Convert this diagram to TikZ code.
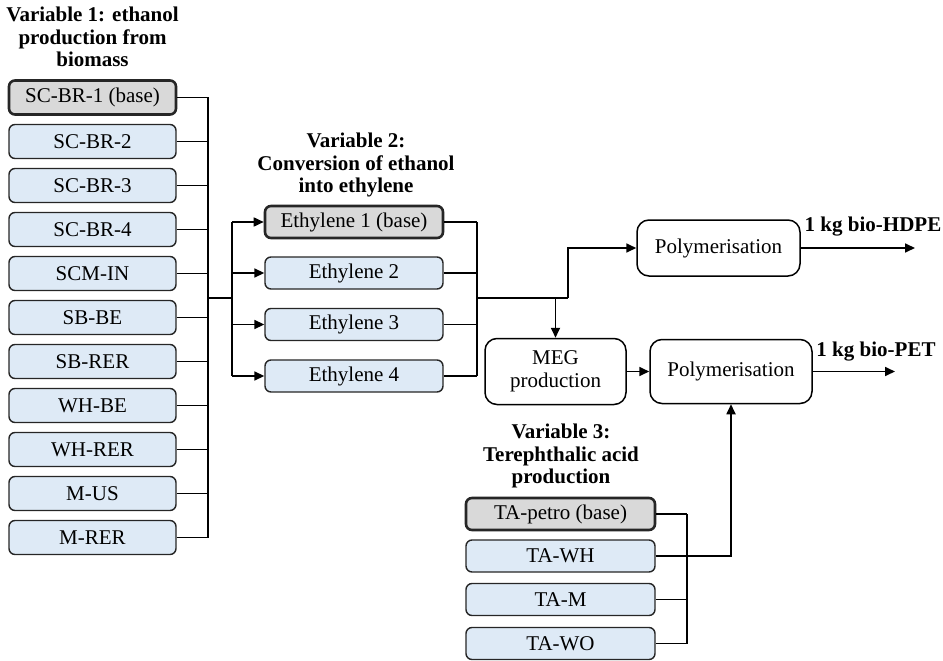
\documentclass[tikz,border=0pt]{standalone}
\usepackage{fontspec}
\setmainfont{Liberation Serif}
\usetikzlibrary{arrows.meta}
\usepackage{xcolor}
\definecolor{altblue}{HTML}{DEEAF6}
\definecolor{basegray}{HTML}{D9D9D9}

\begin{document}
\begin{tikzpicture}[x=1pt, y=-1pt,
		alt/.style  = {rectangle, draw=black!85, fill=altblue, line width=1.4pt, rounded corners=6pt, inner sep=0pt, font=\fontsize{21}{24}\selectfont},
		base/.style = {alt, fill=basegray, line width=2.6pt},
		proc/.style = {rectangle, draw=black, fill=white, line width=1.5pt, rounded corners=12pt, inner sep=0pt, align=center, font=\fontsize{21}{23.5}\selectfont},
		ttl/.style  = {align=center, inner sep=0pt, font=\fontsize{21}{22.5}\selectfont\bfseries},
		c1/.style   = {minimum width=167pt, minimum height=34pt},
		c2/.style   = {minimum width=178pt, minimum height=32pt},
		c3/.style   = {minimum width=189pt, minimum height=32pt},
		l/.style    = {line width=1.7pt},
		r/.style    = {l, -{Triangle[length=10pt, width=9pt]}}
		]
		\useasboundingbox (0,0) rectangle (943,661);
		
		% === === Titles === ===
		\node[ttl]	(t1)	at	(92.5, 37)	{Variable 1: ethanol\\production from\\biomass};
		\node[ttl]	(t2)	at	(356, 165)	{Variable 2:\\Conversion of ethanol\\into ethylene};
		\node[ttl]	(t3)	at	(561, 456)	{Variable 3:\\Terephthalic acid\\production};
		
		% === === Variable 1 === ===
		\node[base, c1]	(scbr1)	at	(92.5, 97.5)	{SC-BR-1 (base)};
		\node[alt, c1]	(scbr2)	at	(92.5, 141.5)	{SC-BR-2};
		\node[alt, c1]	(scbr3)	at	(92.5, 185.5)	{SC-BR-3};
		\node[alt, c1]	(scbr4)	at	(92.5, 229.5)	{SC-BR-4};
		\node[alt, c1]	(scmin)	at	(92.5, 273.5)	{SCM-IN};
		\node[alt, c1]	(sbbe)	at	(92.5, 317.5)	{SB-BE};
		\node[alt, c1]	(sbrer)	at	(92.5, 361.5)	{SB-RER};
		\node[alt, c1]	(whbe)	at	(92.5, 405.5)	{WH-BE};
		\node[alt, c1]	(whrer)	at	(92.5, 449.5)	{WH-RER};
		\node[alt, c1]	(mus)	at	(92.5, 493.5)	{M-US};
		\node[alt, c1]	(mrer)	at	(92.5, 537.5)	{M-RER};
		
		% === === Variable 2 === ===
		\node[base, c2]	(eth1)	at	(354, 222)	{Ethylene 1 (base)};
		\node[alt, c2]	(eth2)	at	(354, 273)	{Ethylene 2};
		\node[alt, c2]	(eth3)	at	(354, 324.5)	{Ethylene 3};
		\node[alt, c2]	(eth4)	at	(354, 376)	{Ethylene 4};
		
		% === === Variable 3 === ===
		\node[base, c3]	(tapetro)	at	(560.5, 514)	{TA-petro (base)};
		\node[alt, c3]	(tawh)	at	(560.5, 556)	{TA-WH};
		\node[alt, c3]	(tam)	at	(560.5, 599.5)	{TA-M};
		\node[alt, c3]	(tawo)	at	(560.5, 643.5)	{TA-WO};
		
		% === === Processes === ===
		\node[proc, minimum width=163pt, minimum height=56pt]	(poly1)	at	(718.5, 248)	{Polymerisation};
		\node[proc, minimum width=141pt, minimum height=66pt]	(meg)	at	(555.5, 371.5)	{MEG\\production};
		\node[proc, minimum width=162pt, minimum height=64pt]	(poly2)	at	(731, 371.5)	{Polymerisation};
		\node[ttl]	(hdpe)	at	(873, 227)	{1 kg bio-HDPE};
		\node[ttl]	(pet)	at	(876, 352)	{1 kg bio-PET};
		
		\coordinate	(bus1)	at	(208, 298);
		\coordinate	(split1)	at	(232, 298);
		\coordinate	(bus2)	at	(477, 298);
		\coordinate	(fork)	at	(568, 298);
		\coordinate	(bus3)	at	(687, 556);
		\coordinate	(out1)	at	(915, 248);
		\coordinate	(out2)	at	(895, 371.5);
		
		% === === Lines === ===
		\draw[l]	(scbr1.east)	--	(scbr1.east -| bus1);
		\draw[l]	(scbr2.east)	--	(scbr2.east -| bus1);
		\draw[l]	(scbr3.east)	--	(scbr3.east -| bus1);
		\draw[l]	(scbr4.east)	--	(scbr4.east -| bus1);
		\draw[l]	(scmin.east)	--	(scmin.east -| bus1);
		\draw[l]	(sbbe.east)	--	(sbbe.east -| bus1);
		\draw[l]	(sbrer.east)	--	(sbrer.east -| bus1);
		\draw[l]	(whbe.east)	--	(whbe.east -| bus1);
		\draw[l]	(whrer.east)	--	(whrer.east -| bus1);
		\draw[l]	(mus.east)	--	(mus.east -| bus1);
		\draw[l]	(mrer.east)	--	(mrer.east -| bus1);
		\draw[l]	(scbr1.east -| bus1)	--	(mrer.east -| bus1);
		\draw[l]	(bus1)	--	(split1);
		
		\draw[l]	(eth1.west -| split1)	--	(eth4.west -| split1);
		\draw[r]	(eth1.west -| split1)	--	(eth1.west);
		\draw[r]	(eth2.west -| split1)	--	(eth2.west);
		\draw[r]	(eth3.west -| split1)	--	(eth3.west);
		\draw[r]	(eth4.west -| split1)	--	(eth4.west);
		
		\draw[l]	(eth1.east)	--	(eth1.east -| bus2);
		\draw[l]	(eth2.east)	--	(eth2.east -| bus2);
		\draw[l]	(eth3.east)	--	(eth3.east -| bus2);
		\draw[l]	(eth4.east)	--	(eth4.east -| bus2);
		\draw[l]	(eth1.east -| bus2)	--	(eth4.east -| bus2);
		\draw[l]	(bus2)	--	(fork);
		\draw[r]	(fork)	|-	(poly1.west);
		\draw[r]	(meg.north |- bus2)	--	(meg.north);
		\draw[r]	(meg)	--	(poly2);
		\draw[r]	(poly1.east)	--	(out1);
		\draw[r]	(poly2.east)	--	(out2);
		
		\draw[l]	(tapetro.east)	--	(tapetro.east -| bus3);
		\draw[l]	(tam.east)	--	(tam.east -| bus3);
		\draw[l]	(tawo.east)	--	(tawo.east -| bus3);
		\draw[l]	(tapetro.east -| bus3)	--	(tawo.east -| bus3);
		\draw[r]	(tawh.east)	-|	(poly2.south);
		
\end{tikzpicture}
\end{document}
